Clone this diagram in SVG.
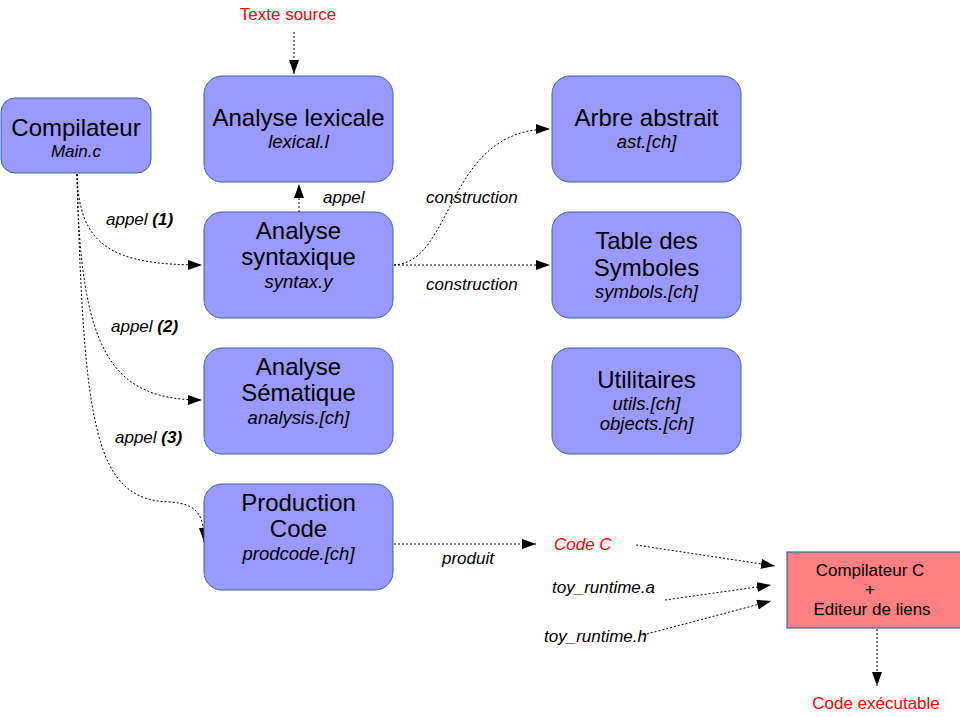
<svg xmlns="http://www.w3.org/2000/svg" width="960" height="717" viewBox="0 0 960 717">
<style>
.box{fill:#9999ff;stroke:#3465a4;stroke-width:1}
.red{fill:#ff8080;stroke:#3465a4;stroke-width:1.2}
text{font-family:"Liberation Sans",Arial,sans-serif;fill:#000;text-anchor:middle}
.t{font-size:24px}
.s{font-size:18.5px;font-style:italic}
.l{font-size:17px;font-style:italic;text-anchor:start}
.r{fill:#ff0000}
.c{font-size:17px}
.con{fill:none;stroke:#000;stroke-width:1;stroke-dasharray:2,2;marker-end:url(#ah)}
</style>
<defs>
<marker id="ah" markerUnits="userSpaceOnUse" markerWidth="16" markerHeight="12" refX="14" refY="5" orient="auto">
<path d="M0,0 L14,5 L0,10 z" fill="#000"/>
</marker>
</defs>
<g id="connectors">
<path class="con" d="M294,32 L294,74"/>
<path class="con" d="M299,212 L299,184"/>
<path class="con" d="M77,174 C79,245 110,265 202,265"/>
<path class="con" d="M77,174 C80,350 110,400 202,400"/>
<path class="con" d="M77,174 C84,430 95,500 170,502 C198,504 204,515 204,542"/>
<path class="con" d="M394,265 L550,265"/>
<path class="con" d="M394,265 C455,262 445,129 550,129"/>
<path class="con" d="M394,544 L536,544"/>
<path class="con" d="M636,545 L775,566"/>
<path class="con" d="M665,600 L771,585"/>
<path class="con" d="M643,635 L771,601"/>
<path class="con" d="M877,629 L877,686"/>
</g>
<g id="labels">
<text class="l" x="106" y="225">appel <tspan font-weight="bold">(1)</tspan></text>
<text class="l" x="111" y="332">appel <tspan font-weight="bold">(2)</tspan></text>
<text class="l" x="115" y="443">appel <tspan font-weight="bold">(3)</tspan></text>
<text class="l" x="323" y="203">appel</text>
<text class="l" x="426" y="203">construction</text>
<text class="l" x="426" y="290">construction</text>
<text class="l" x="442" y="564">produit</text>
</g>
<g id="texte-source"><text class="c r" x="288" y="20">Texte source</text></g>
<g id="compilateur">
<rect class="box" x="1" y="98" width="150" height="75" rx="14"/>
<text class="t" x="76" y="136">Compilateur</text>
<text class="s" x="76" y="157" style="font-size:17px">Main.c</text>
</g>
<g id="lexicale">
<rect class="box" x="204" y="76" width="189" height="106" rx="18"/>
<text class="t" x="298.5" y="126">Analyse lexicale</text>
<text class="s" x="298.5" y="148">lexical.l</text>
</g>
<g id="syntaxique">
<rect class="box" x="204" y="212" width="189" height="106" rx="18"/>
<text class="t" x="298.5" y="239">Analyse</text>
<text class="t" x="298.5" y="265">syntaxique</text>
<text class="s" x="298.5" y="288">syntax.y</text>
</g>
<g id="semantique">
<rect class="box" x="204" y="348" width="189" height="106" rx="18"/>
<text class="t" x="298.5" y="375">Analyse</text>
<text class="t" x="298.5" y="401">Sématique</text>
<text class="s" x="298.5" y="424">analysis.[ch]</text>
</g>
<g id="production">
<rect class="box" x="204" y="484" width="189" height="106" rx="18"/>
<text class="t" x="298.5" y="511">Production</text>
<text class="t" x="298.5" y="537">Code</text>
<text class="s" x="298.5" y="560">prodcode.[ch]</text>
</g>
<g id="arbre">
<rect class="box" x="552" y="76" width="189" height="106" rx="18"/>
<text class="t" x="646.5" y="126">Arbre abstrait</text>
<text class="s" x="646.5" y="148">ast.[ch]</text>
</g>
<g id="table">
<rect class="box" x="552" y="212" width="189" height="106" rx="18"/>
<text class="t" x="646.5" y="249">Table des</text>
<text class="t" x="646.5" y="276">Symboles</text>
<text class="s" x="646.5" y="298">symbols.[ch]</text>
</g>
<g id="utilitaires">
<rect class="box" x="552" y="348" width="189" height="106" rx="18"/>
<text class="t" x="646.5" y="388">Utilitaires</text>
<text class="s" x="646.5" y="410">utils.[ch]</text>
<text class="s" x="646.5" y="430">objects.[ch]</text>
</g>
<g id="code-c"><text class="l r" x="554" y="550">Code C</text></g>
<g id="toy-a"><text class="l" x="552" y="593">toy_runtime.a</text></g>
<g id="toy-h"><text class="l" x="544" y="642">toy_runtime.h</text></g>
<g id="compilateur-c">
<rect class="red" x="787" y="552" width="180" height="76"/>
<text class="c" x="870" y="576">Compilateur C</text>
<text class="c" x="870" y="595">+</text>
<text class="c" x="872" y="615">Editeur de liens</text>
</g>
<g id="executable"><text class="c r" x="876" y="709">Code exécutable</text></g>
</svg>
